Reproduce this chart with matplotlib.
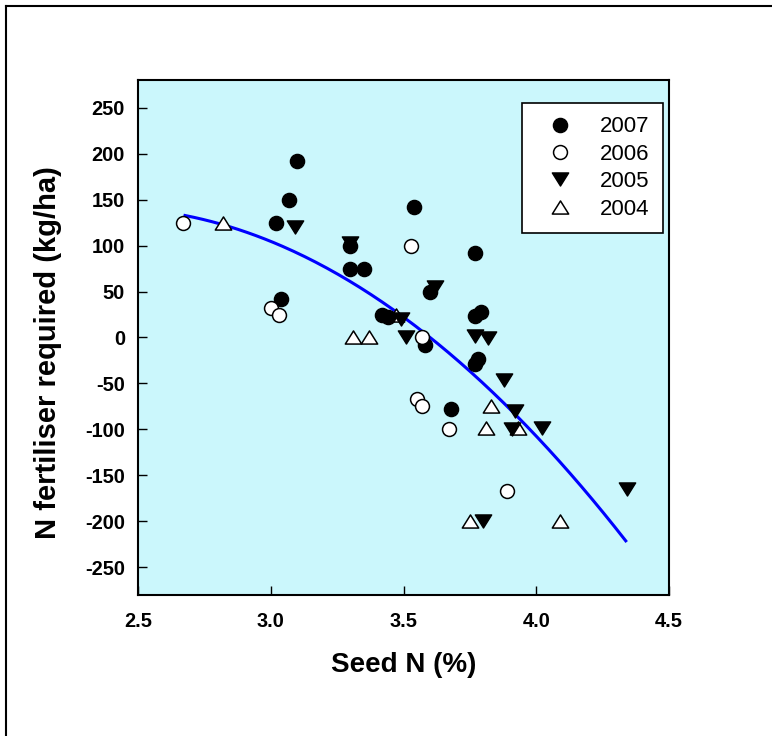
import numpy as np
import matplotlib
matplotlib.use('Agg')
from matplotlib import pyplot as plt
from matplotlib.lines import Line2D
from matplotlib.path import Path

plt.rcParams['font.family'] = ['Liberation Sans', 'DejaVu Sans']

# seed N (%) vs N fertiliser required (kg/ha), one pair of lists per year
x_2007 = [3.02, 3.04, 3.07, 3.10, 3.30, 3.30, 3.35, 3.42, 3.44, 3.54, 3.58, 3.60,
          3.68, 3.77, 3.77, 3.79, 3.77, 3.78]
y_2007 = [124, 42, 149, 192, 99, 75, 75, 25, 22, 142, -8, 49,
          -78, 92, 23, 28, -29, -23]

x_2006 = [2.67, 3.00, 3.03, 3.53, 3.57, 3.55, 3.57, 3.67, 3.89]
y_2006 = [125, 32, 25, 100, 0, -67, -75, -100, -167]

x_2005 = [3.09, 3.30, 3.49, 3.51, 3.62, 3.77, 3.82, 3.88, 3.92, 3.91, 4.02, 3.80, 4.34]
y_2005 = [120, 103, 20, 0, 55, 2, -1, -46, -80, -100, -98, -200, -165]

x_2004 = [2.82, 3.31, 3.37, 3.47, 3.83, 3.81, 3.93, 3.75, 4.09]
y_2004 = [125, 0, 0, 25, -75, -98, -98, -200, -200]

# quadratic fit (coefficients), highest power first
fit_coef = [-94.2, 447.6, -390.5]
fit_range = [2.677, 4.337]

x_ticks = [2.5, 3.0, 3.5, 4.0, 4.5]
y_ticks = [-250, -200, -150, -100, -50, 0, 50, 100, 150, 200, 250]

fig = plt.figure(figsize=(7.72, 7.36), dpi=100)
ax = fig.add_axes([0.1788, 0.1916, 0.6878, 0.6997])
ax.set_facecolor('#cbf7fc')

fit_x = np.linspace(fit_range[0], fit_range[1], 200)
ax.plot(fit_x, np.polyval(fit_coef, fit_x), color='#0000ff', lw=2.2, zorder=2)

tri_down = Path([(-1, 0.8), (1, 0.8), (0, -0.8), (0, 0)], closed=True)
tri_up = Path([(-1, -0.8), (1, -0.8), (0, 0.8), (0, 0)], closed=True)

ax.plot(x_2004, y_2004, linestyle='none', marker=tri_up, ms=11.8,
        mfc='white', mec='black', mew=1.1, label='2004', zorder=3)
ax.plot(x_2005, y_2005, linestyle='none', marker=tri_down, ms=11.8,
        mfc='black', mec='black', mew=1.0, label='2005', zorder=3)
ax.plot(x_2007, y_2007, linestyle='none', marker='o', ms=10.2,
        mfc='black', mec='black', mew=1.0, label='2007', zorder=3)
ax.plot(x_2006, y_2006, linestyle='none', marker='o', ms=10.0,
        mfc='white', mec='black', mew=1.1, label='2006', zorder=3)

ax.set_xlim(2.5, 4.5)
ax.set_ylim(-280, 280)
ax.set_xticks(x_ticks)
ax.set_xticklabels(['%.1f' % t for t in x_ticks])
ax.set_yticks(y_ticks)
ax.set_yticklabels([str(t) for t in y_ticks])

ax.tick_params(direction='in', length=6.5, width=1, labelsize=14.4,
               top=False, right=False)
ax.tick_params(axis='x', pad=12.5)
ax.tick_params(axis='y', pad=9.4)
for lab in ax.get_xticklabels() + ax.get_yticklabels():
    lab.set_fontweight('bold')
for sp in ax.spines.values():
    sp.set_linewidth(1.5)

ax.set_xlabel('Seed N (%)', fontsize=20, fontweight='bold')
ax.set_ylabel('N fertiliser required (kg/ha)', fontsize=21, fontweight='bold')
ax.xaxis.set_label_coords(0.5, -0.110)
ax.yaxis.set_label_coords(-0.144, 0.471)

handles, labels = ax.get_legend_handles_labels()
order = [2, 3, 1, 0]
leg = ax.legend([handles[i] for i in order], [labels[i] for i in order],
                loc='upper right', bbox_to_anchor=(0.9887, 0.9553),
                borderaxespad=0, fontsize=16, fancybox=False, framealpha=1,
                edgecolor='black', borderpad=0.6, handlelength=2.2,
                handletextpad=0.7, labelspacing=0.29)
leg.get_frame().set_linewidth(1.2)

# outer frame of the figure (only top and left edges visible)
fig.add_artist(Line2D([6 / 772, 1], [1 - 6 / 736, 1 - 6 / 736],
                      transform=fig.transFigure, color='black', lw=1.5))
fig.add_artist(Line2D([6 / 772, 6 / 772], [0, 1 - 6 / 736],
                      transform=fig.transFigure, color='black', lw=1.5))

fig.savefig('out.png', dpi=100)
